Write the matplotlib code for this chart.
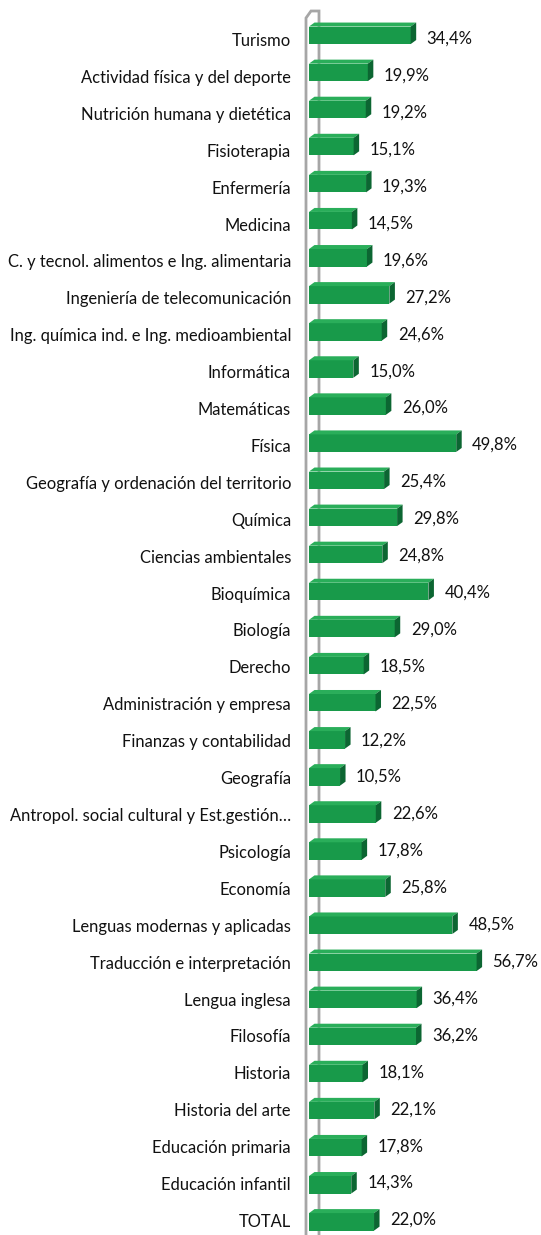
import matplotlib
matplotlib.use("Agg")
import matplotlib.pyplot as plt
from matplotlib.patches import Polygon

categories = [
    "Turismo", "Actividad física y del deporte", "Nutrición humana y dietética",
    "Fisioterapia", "Enfermería", "Medicina",
    "C. y tecnol. alimentos e Ing. alimentaria", "Ingeniería de telecomunicación",
    "Ing. química ind. e Ing. medioambiental", "Informática", "Matemáticas",
    "Física", "Geografía y ordenación del territorio", "Química",
    "Ciencias ambientales", "Bioquímica", "Biología", "Derecho",
    "Administración y empresa", "Finanzas y contabilidad", "Geografía",
    "Antropol. social cultural y Est.gestión…", "Psicología", "Economía",
    "Lenguas modernas y aplicadas", "Traducción e interpretación",
    "Lengua inglesa", "Filosofía", "Historia", "Historia del arte",
    "Educación primaria", "Educación infantil", "TOTAL",
]
values = [
    34.4, 19.9, 19.2, 15.1, 19.3, 14.5, 19.6, 27.2, 24.6, 15.0, 26.0, 49.8,
    25.4, 29.8, 24.8, 40.4, 29.0, 18.5, 22.5, 12.2, 10.5, 22.6, 17.8, 25.8,
    48.5, 56.7, 36.4, 36.2, 18.1, 22.1, 17.8, 14.3, 22.0,
]

W, H = 541, 1235
fig = plt.figure(figsize=(W / 100, H / 100), dpi=100)
ax = fig.add_axes([0, 0, 1, 1])
ax.axis("off")

ppu = 2.956          # pixels per percent
x0px = 309           # pixel of value 0
y0px = 35.3          # pixel center of first bar
step = 37.08         # pixels between bars
ax.set_xlim(-x0px / ppu, (W - x0px) / ppu)
ax.set_ylim((H - y0px) / step, -y0px / step)

def px_x(dp):
    return dp / ppu

def px_y(dp):
    return dp / step

front = "#189a4a"
top_c = "#2aae5a"
side_c = "#0c6632"
wall = "#a6a6a6"

n = len(categories)
ys = list(range(n))
bh = px_y(17.5)
dx = px_x(5.5)
dy = px_y(4)

# back wall lines
ax.plot([px_x(-3), px_x(-3), px_x(2), px_x(10), px_x(10)],
        [(H - y0px) / step, px_y(18 - y0px), px_y(11 - y0px), px_y(11 - y0px), (H - y0px) / step],
        color=wall, lw=2, solid_joinstyle="miter", zorder=1)

ax.barh(ys, values, height=bh, left=0, color=front, edgecolor="none", zorder=3)
for y, v in zip(ys, values):
    yt = y - bh / 2
    yb = y + bh / 2
    ax.add_patch(Polygon([(0, yt), (v, yt), (v + dx, yt - dy), (dx, yt - dy)],
                         closed=True, facecolor=top_c, edgecolor="none", zorder=3))
    ax.add_patch(Polygon([(v, yt), (v + dx, yt - dy), (v + dx, yb - dy), (v, yb)],
                         closed=True, facecolor=side_c, edgecolor="none", zorder=3))

font = "Lato"
for i, (c, v) in enumerate(zip(categories, values)):
    ly = (41 + 36.906 * i - y0px) / step
    ax.text(px_x(-18), ly, c, ha="right", va="center", fontsize=11.9,
            family=font, color="#111111")
    ax.text(v + px_x(16), ly - px_y(2), f"{v:.1f}%".replace(".", ","),
            ha="left", va="center", fontsize=12, family=font, color="#111111")

fig.savefig("out.png", dpi=100)
